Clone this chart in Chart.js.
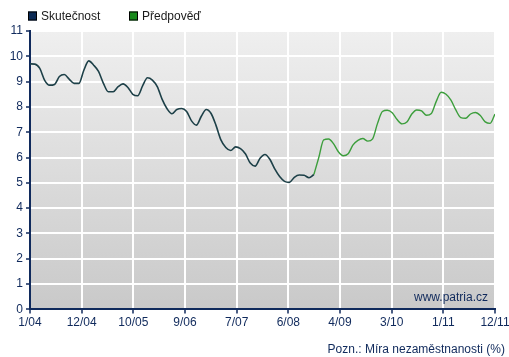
<!DOCTYPE html>
<html>
<head>
<meta charset="utf-8">
<script src="https://cdn.jsdelivr.net/npm/chart.js@4/dist/chart.umd.min.js"></script>
<style>
  html, body { margin: 0; padding: 0; background: #ffffff; }
  #wrap { position: relative; width: 509px; height: 357px; }
  canvas { display: block; }
</style>
</head>
<body>
<div id="wrap"><canvas id="c" width="509" height="357"></canvas></div>
<script>
// ---- data (monthly, index 0 = 1/2004) ----
const tickLabels = ['1/04', '12/04', '10/05', '9/06', '7/07', '6/08', '4/09', '3/10', '1/11', '12/11'];
const seriesNames = ['Skutečnost', 'Předpověď'];
// Skutečnost: 1/2004 – 11/2008
const actualValues = [
  9.70, 9.69, 9.52, 9.05, 8.86, 8.89, 9.20, 9.28, 9.10, 8.93, 8.93, 9.45,
  9.82, 9.65, 9.40, 8.93, 8.60, 8.60, 8.80, 8.91, 8.77, 8.50, 8.44, 8.83,
  9.15, 9.06, 8.80, 8.30, 7.93, 7.73, 7.90, 7.94, 7.82, 7.45, 7.28, 7.63,
  7.90, 7.74, 7.27, 6.70, 6.40, 6.28, 6.42, 6.35, 6.15, 5.78, 5.66, 5.97,
  6.12, 5.93, 5.55, 5.25, 5.06, 5.02, 5.22, 5.31, 5.30, 5.20, 5.33
];
// Předpověď: 11/2008 – 12/2011
const forecastStart = 58;
const forecastValues = [
  5.33, 6.00, 6.70, 6.73, 6.55, 6.23, 6.07, 6.15, 6.50, 6.68, 6.75, 6.65,
  6.74, 7.35, 7.82, 7.87, 7.77, 7.50, 7.33, 7.40, 7.72, 7.88, 7.84, 7.67,
  7.74, 8.22, 8.58, 8.50, 8.27, 7.88, 7.58, 7.55, 7.72, 7.78, 7.66, 7.41,
  7.35, 7.72
];
const lastIndex = 95;
const footnote = 'Pozn.: Míra nezaměstnanosti (%)';
const watermark = 'www.patria.cz';

const FONT = '"Liberation Sans", Arial, Helvetica, sans-serif';
const NAVY = '#102a5c';
const ACTUAL_COLOR = '#1d4048';
const FORECAST_COLOR = '#3c9e3c';

const bgPlugin = {
  id: 'bgPlugin',
  beforeDraw(chart) {
    const { ctx, chartArea: a } = chart;
    const g = ctx.createLinearGradient(0, a.top, 0, a.bottom);
    g.addColorStop(0, '#efefef');
    g.addColorStop(1, '#c9c9c9');
    ctx.save();
    ctx.fillStyle = g;
    ctx.fillRect(a.left, a.top, a.right - a.left, a.bottom - a.top);
    ctx.restore();
  },
  afterDraw(chart) {
    const { ctx, chartArea: a } = chart;
    ctx.save();
    // legend
    const boxes = [
      { x: 28, fill: '#0b2a55', text: seriesNames[0] },
      { x: 129, fill: '#17891a', text: seriesNames[1] }
    ];
    ctx.font = '12px ' + FONT;
    ctx.textBaseline = 'middle';
    ctx.textAlign = 'left';
    boxes.forEach(b => {
      ctx.fillStyle = b.fill;
      ctx.fillRect(b.x, 11.5, 9, 9);
      ctx.strokeStyle = '#000000';
      ctx.lineWidth = 1;
      ctx.strokeRect(b.x + 0.5, 12, 8, 8);
      ctx.fillStyle = '#1a1a1a';
      ctx.fillText(b.text, b.x + 13, 16.5);
    });
    // watermark
    ctx.fillStyle = NAVY;
    ctx.textAlign = 'right';
    ctx.fillText(watermark, a.right - 7, a.bottom - 12);
    // footnote
    ctx.fillText(footnote, 505, 349.5);
    ctx.restore();
  }
};

const actualData = actualValues.map((v, i) => ({ x: i, y: v }));
const forecastData = forecastValues.map((v, i) => ({ x: forecastStart + i, y: v }));

new Chart(document.getElementById('c'), {
  type: 'line',
  data: {
    datasets: [
      {
        label: seriesNames[1],
        data: forecastData,
        borderColor: FORECAST_COLOR,
        borderWidth: 1.4,
        pointRadius: 0,
        cubicInterpolationMode: 'monotone',
        fill: false
      },
      {
        label: seriesNames[0],
        data: actualData,
        borderColor: ACTUAL_COLOR,
        borderWidth: 1.6,
        pointRadius: 0,
        cubicInterpolationMode: 'monotone',
        fill: false
      }
    ]
  },
  options: {
    responsive: false,
    animation: false,
    devicePixelRatio: 1,
    layout: { padding: { top: 31, right: 14, bottom: 28, left: 0 } },
    plugins: {
      legend: { display: false },
      tooltip: { enabled: false },
      title: { display: false }
    },
    scales: {
      x: {
        type: 'linear',
        min: 0,
        max: lastIndex,
        afterBuildTicks(axis) {
          axis.ticks = tickLabels.map((_, i) => ({ value: i * lastIndex / (tickLabels.length - 1) }));
        },
        afterFit(scale) {
          scale.height = 19.6;
          scale.paddingLeft = 0;
          scale.paddingRight = 0;
        },
        ticks: {
          autoSkip: false,
          maxRotation: 0,
          minRotation: 0,
          padding: 2,
          color: NAVY,
          font: { family: FONT, size: 12 },
          callback: (value, index) => tickLabels[index]
        },
        grid: {
          color: '#ffffff',
          lineWidth: 2,
          tickColor: NAVY,
          tickLength: 4,
          tickWidth: 1.5
        },
        border: { color: NAVY, width: 2 }
      },
      y: {
        min: 0,
        max: 11,
        afterFit(scale) { scale.width = 30; },
        ticks: {
          stepSize: 1,
          padding: 3,
          color: NAVY,
          font: { family: FONT, size: 12 }
        },
        grid: {
          color: '#ffffff',
          lineWidth: 2,
          tickColor: NAVY,
          tickLength: 4,
          tickWidth: 1.5
        },
        border: { color: NAVY, width: 2 }
      }
    }
  },
  plugins: [bgPlugin]
});
</script>
</body>
</html>
